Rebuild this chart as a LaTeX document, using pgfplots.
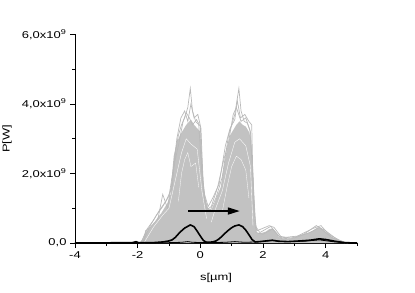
\documentclass[border=0pt]{standalone}
\usepackage{pgfplots}
\pgfplotsset{compat=1.18}
\usepackage{fontspec}
\setmainfont{Liberation Sans}
\usetikzlibrary{arrows.meta}
\definecolor{lgray}{RGB}{194,194,194}
\definecolor{lgrayline}{RGB}{186,186,186}
\newcommand\sx[1]{\scalebox{1.3}[1]{#1}}
\begin{document}
\begin{tikzpicture}
\path[use as bounding box] (0,0) rectangle (415bp,293bp);
\begin{axis}[
  at={(75bp,50bp)}, anchor=south west,
  scale only axis, width=282bp, height=208.5bp,
  xmin=-4, xmax=5, ymin=0, ymax=6,
  axis x line=bottom, axis y line=left,
  axis line style={-, line width=0.8pt},
  tick align=outside,
  major tick length=5bp, minor tick length=3bp,
  every tick/.style={black, line width=0.8pt},
  xtick={-4,-2,0,2,4}, xticklabels={\sx{-4},\sx{-2},\sx{0},\sx{2},\sx{4}},
  minor xtick={-3,-1,1,3,5},
  ytick={0,2,4,6},
  yticklabels={{\sx{0,0}},{\sx{2,0x10\textsuperscript{9}}},{\sx{4,0x10\textsuperscript{9}}},{\sx{6,0x10\textsuperscript{9}}}},
  minor ytick={1,3,5},
  tick label style={font=\fontsize{10}{12}\selectfont},
  xlabel={\sx{s[\textmu m]}}, ylabel={\sx{P[W]}},
  label style={font=\fontsize{10}{12}\selectfont},
  every axis x label/.style={at={(axis description cs:0.5,-0.168)}, anchor=center},
  every axis y label/.style={at={(axis description cs:-0.241,0.5)}, rotate=90, anchor=center},
  clip=false,
  no markers,
]
% dense core of the gray runs
\addplot[fill=lgray, draw=none] coordinates {
(-1.95,0) (-1.85,0.1) (-1.75,0.3) (-1.65,0.4) (-1.55,0.5) (-1.45,0.6) (-1.35,0.75) (-1.25,0.85) (-1.15,1.0) (-1.05,1.15) (-0.95,1.4) (-0.9,2.0) (-0.85,2.5) (-0.75,2.9) (-0.65,3.1) (-0.55,3.25) (-0.45,3.4) (-0.35,3.5) (-0.3,3.55) (-0.2,3.4) (-0.1,3.3) (0.0,3.2) (0.05,2.4) (0.1,1.8) (0.15,1.3) (0.25,1.0) (0.35,0.95) (0.45,1.15) (0.55,1.4) (0.65,1.6) (0.75,2.2) (0.85,2.7) (0.95,3.1) (1.05,3.25) (1.15,3.4) (1.25,3.5) (1.35,3.4) (1.45,3.35) (1.55,3.2) (1.62,3.0) (1.66,2.3) (1.7,1.6) (1.74,0.6) (1.8,0.3) (1.9,0.28) (2.0,0.3) (2.1,0.33) (2.2,0.4) (2.3,0.42) (2.4,0.33) (2.5,0.18) (2.6,0.13) (2.8,0.12) (3.0,0.15) (3.2,0.22) (3.4,0.28) (3.6,0.36) (3.75,0.45) (3.85,0.42) (4.0,0.32) (4.2,0.18) (4.4,0.08) (4.6,0.03) (4.75,0)
} \closedcycle;
% individual gray runs
\addplot[lgrayline, line width=0.7pt] coordinates {
(-1.9,0) (-1.7,0.4) (-1.5,0.65) (-1.3,0.95) (-1.1,1.2) (-0.9,1.6) (-0.8,2.6) (-0.7,3.1) (-0.6,3.4) (-0.5,3.6) (-0.4,3.9) (-0.32,4.45) (-0.25,3.8) (-0.15,3.5) (-0.05,3.4) (0.05,2.0) (0.15,1.1) (0.3,0.9) (0.5,1.3) (0.7,1.9) (0.8,2.5) (0.9,3.1) (1.0,3.4) (1.1,3.7) (1.23,4.45) (1.3,3.8) (1.4,3.5) (1.5,3.45) (1.6,3.2) (1.7,1.5) (1.78,0.3) (2.0,0.25) (2.3,0.4) (2.6,0.12) (3.0,0.15) (3.5,0.3) (3.8,0.45) (4.2,0.15) (4.7,0)
};
\addplot[lgrayline, line width=0.7pt] coordinates {
(-1.85,0) (-1.6,0.5) (-1.4,0.8) (-1.2,1.05) (-1.0,1.35) (-0.85,2.2) (-0.7,2.8) (-0.55,3.5) (-0.45,3.75) (-0.35,3.6) (-0.25,3.4) (-0.12,3.55) (0.0,3.35) (0.08,1.8) (0.2,0.95) (0.35,1.05) (0.55,1.6) (0.75,2.4) (0.9,2.9) (1.05,3.7) (1.15,3.9) (1.3,3.5) (1.45,3.6) (1.58,3.25) (1.68,2.0) (1.75,0.5) (1.9,0.3) (2.25,0.48) (2.5,0.2) (2.9,0.14) (3.3,0.25) (3.7,0.5) (4.0,0.35) (4.4,0.08) (4.7,0)
};
\addplot[lgrayline, line width=0.7pt] coordinates {
(-1.8,0) (-1.75,0.35) (-1.6,0.45) (-1.35,0.7) (-1.2,1.4) (-1.05,1.0) (-0.9,1.8) (-0.75,3.0) (-0.62,3.6) (-0.5,3.8) (-0.4,3.5) (-0.3,4.0) (-0.2,3.6) (-0.08,3.7) (0.02,3.3) (0.1,1.5) (0.25,1.05) (0.4,1.3) (0.6,1.7) (0.8,2.8) (0.95,3.3) (1.1,3.55) (1.18,4.1) (1.28,3.6) (1.42,3.7) (1.55,3.5) (1.64,3.4) (1.7,1.0) (1.8,0.35) (2.2,0.5) (2.35,0.45) (2.6,0.15) (3.1,0.2) (3.6,0.42) (3.85,0.5) (4.1,0.25) (4.6,0)
};
\addplot[white, line width=0.35pt] coordinates {
(-1.8,0) (-1.5,0.45) (-1.2,0.8) (-1.0,1.0) (-0.8,1.8) (-0.6,2.6) (-0.45,3.0) (-0.3,2.85) (-0.1,2.7) (0.05,1.5) (0.2,0.7)
};
\addplot[white, line width=0.35pt] coordinates {
(0.35,0.6) (0.45,0.9) (0.7,1.5) (0.9,2.3) (1.1,2.9) (1.25,3.0) (1.45,2.8) (1.6,2.2) (1.68,0.5)
};
\addplot[white, line width=0.3pt] coordinates {
(-0.7,1.2) (-0.6,2.0) (-0.5,2.4) (-0.4,2.6) (-0.3,2.2) (-0.15,2.3) (-0.05,1.6)
};
\addplot[white, line width=0.3pt] coordinates {
(0.7,0.9) (0.85,1.6) (1.0,2.2) (1.15,2.5) (1.3,2.4) (1.45,2.1) (1.55,1.3)
};
% black runs
\addplot[black, line width=0.8pt] coordinates {
(-4,0) (-3,0.005) (-2.2,0.01) (-2.05,0.05) (-1.95,0.01) (-1.0,0.01) (-0.6,0.02) (-0.4,0.04) (-0.25,0.02) (0.2,0.01) (0.8,0.02) (1.1,0.04) (1.4,0.02) (1.8,0.03) (2.3,0.07) (2.7,0.04) (3.3,0.05) (3.8,0.09) (4.3,0.03) (4.8,0.005) (5,0)
};
\addplot[black, line width=1.6pt] coordinates {
(-4,0) (-3,0.005) (-2.2,0.01) (-1.5,0.01) (-1.2,0.03) (-1.0,0.06) (-0.9,0.09) (-0.8,0.16) (-0.7,0.26) (-0.6,0.35) (-0.5,0.43) (-0.32,0.52) (-0.2,0.47) (-0.1,0.34) (0.0,0.2) (0.1,0.07) (0.2,0.02) (0.4,0.03) (0.5,0.06) (0.6,0.12) (0.7,0.2) (0.8,0.29) (0.9,0.37) (1.0,0.44) (1.1,0.49) (1.23,0.52) (1.35,0.47) (1.45,0.37) (1.55,0.24) (1.65,0.1) (1.75,0.03) (1.9,0.04) (2.1,0.06) (2.3,0.08) (2.5,0.05) (2.8,0.04) (3.2,0.06) (3.5,0.08) (3.8,0.12) (4.0,0.1) (4.3,0.05) (4.6,0.01) (5.0,0)
};
\draw[line width=1.6pt, -{Triangle[length=12bp,width=7bp]}] (axis cs:-0.38,0.92) -- (axis cs:1.26,0.92);
\end{axis}
\end{tikzpicture}
\end{document}
